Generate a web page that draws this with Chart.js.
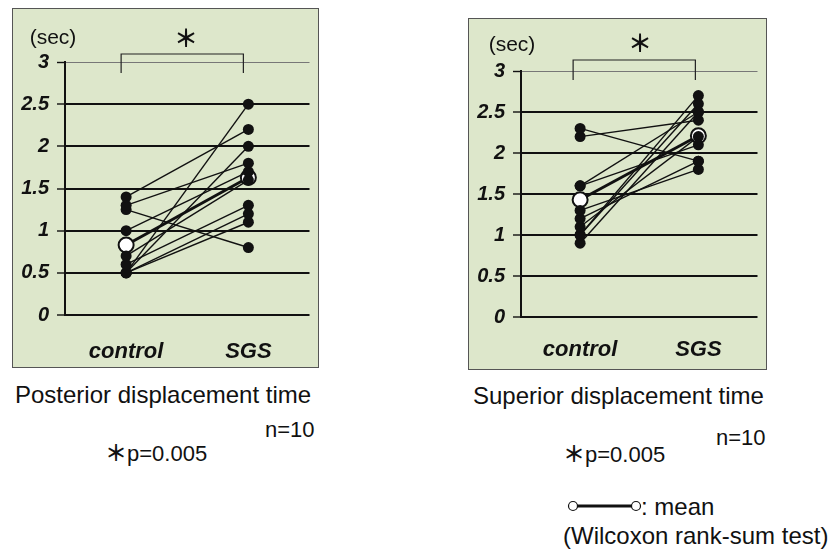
<!DOCTYPE html>
<html>
<head>
<meta charset="utf-8">
<script src="https://cdn.jsdelivr.net/npm/chart.js@4.4.1/dist/chart.umd.min.js"></script>
<style>
    body { margin: 0; background: #fff; width: 834px; height: 550px; position: relative; overflow: hidden;
           font-family: "Liberation Sans", Arial, sans-serif; color: #111; }
    .panel { position: absolute; box-sizing: border-box; background: #dde7cb; border: 1px solid #555; }
    canvas { position: absolute; }
    .txt { position: absolute; line-height: 1; white-space: nowrap; }
    .ast { font-family: "Noto Sans CJK JP", sans-serif; font-weight: bold; }
</style>
</head>
<body>
<div class="panel" style="left:12px; top:8px; width:307px; height:360px;"></div>
<canvas id="chartPost" style="left:12px; top:8px;"></canvas>
<div class="panel" style="left:468px; top:18px; width:299px; height:352px;"></div>
<canvas id="chartSup" style="left:468px; top:18px;"></canvas>

<div class="txt" style="left:15px; top:383px; font-size:24px;">Posterior displacement time</div>
<div class="txt" style="left:265px; top:419px; font-size:22px;">n=10</div>
<div class="txt" style="left:105px; top:440px; font-size:22px;"><span class="ast">＊</span>p=0.005</div>

<div class="txt" style="left:473px; top:384px; font-size:24px;">Superior displacement time</div>
<div class="txt" style="left:716px; top:427px; font-size:22px;">n=10</div>
<div class="txt" style="left:563px; top:441px; font-size:22px;"><span class="ast">＊</span>p=0.005</div>

<svg style="position:absolute; left:560px; top:496px;" width="90" height="20">
    <line x1="17" y1="10" x2="72" y2="10" stroke="#111" stroke-width="3"/>
    <circle cx="13" cy="10" r="4.5" fill="#fff" stroke="#111" stroke-width="1.2"/>
    <circle cx="76" cy="10" r="4.5" fill="#fff" stroke="#111" stroke-width="1.2"/>
</svg>
<div class="txt" style="left:641px; top:495px; font-size:24px;">: mean</div>
<div class="txt" style="left:563px; top:524px; font-size:24px;">(Wilcoxon rank-sum test)</div>

<script>
// 그룹 라벨, y축 눈금
const groups = ['control', 'SGS'];
const yTicks = [0, 0.5, 1, 1.5, 2, 2.5, 3];
const yTickLabels = ['0', '0.5', '1', '1.5', '2', '2.5', '3'];

// Posterior displacement time (개체별 control -> SGS)
const postControl = [1.4, 1.3, 1.25, 1.0, 0.7, 0.6, 0.5, 0.5, 0.5, 0.5];
const postSGS     = [2.2, 1.8, 0.8, 1.7, 1.6, 1.3, 2.5, 2.0, 1.2, 1.1];
const postMean    = [0.83, 1.63];

// Superior displacement time
const supControl = [2.3, 2.2, 1.6, 1.6, 1.3, 1.2, 1.1, 1.0, 1.0, 0.9];
const supSGS     = [1.9, 2.4, 2.5, 2.1, 1.8, 1.9, 2.2, 2.7, 2.6, 2.5];
const supMean    = [1.43, 2.21];

const tickFont = { family: '"Liberation Sans", Arial, sans-serif', size: 20, weight: 'bold', style: 'italic' };
const catFont  = { family: '"Liberation Sans", Arial, sans-serif', size: 22, weight: 'bold', style: 'italic' };

// 유의성 괄호, 별표, (sec) 표시
const bracketPlugin = {
    id: 'bracket',
    afterDraw(chart, args, opts) {
        const ctx = chart.ctx;
        const x = chart.scales.x;
        const x0 = x.getPixelForValue(0) + opts.dx0;
        const x1 = x.getPixelForValue(1) + opts.dx1;
        ctx.save();
        ctx.strokeStyle = '#222';
        ctx.lineWidth = 1.2;
        ctx.beginPath();
        ctx.moveTo(x0, opts.bottom);
        ctx.lineTo(x0, opts.top);
        ctx.lineTo(x1, opts.top);
        ctx.lineTo(x1, opts.bottom);
        ctx.stroke();
        ctx.fillStyle = '#111';
        ctx.textAlign = 'center';
        ctx.textBaseline = 'middle';
        ctx.font = 'bold 24px "Noto Sans CJK JP", sans-serif';
        ctx.fillText('＊', opts.astX, opts.astY);
        ctx.font = '21px "Liberation Sans", Arial, sans-serif';
        ctx.fillText('(sec)', opts.secX, opts.secY);
        ctx.restore();
    }
};

function makeChart(id, w, h, top, bottom, control, sgs, mean, br) {
    const canvas = document.getElementById(id);
    canvas.width = w;
    canvas.height = h;
    canvas.style.width = w + 'px';
    canvas.style.height = h + 'px';

    const datasets = control.map((c, i) => ({
        data: [c, sgs[i]],
        borderColor: '#111',
        borderWidth: 1.4,
        pointRadius: 5.5,
        pointBackgroundColor: '#111',
        pointBorderWidth: 0
    }));
    datasets.push({
        data: mean,
        borderColor: '#111',
        borderWidth: 3,
        pointRadius: 7.5,
        pointBackgroundColor: '#fff',
        pointBorderColor: '#111',
        pointBorderWidth: 2
    });

    return new Chart(canvas, {
        type: 'line',
        data: { labels: groups, datasets: datasets },
        options: {
            responsive: false,
            animation: false,
            layout: { padding: { top: top, left: 0, right: 0, bottom: 0 } },
            plugins: {
                legend: { display: false },
                tooltip: { enabled: false },
                bracket: br
            },
            scales: {
                x: {
                    offset: true,
                    grid: { display: false, drawTicks: false },
                    border: { display: false },
                    ticks: { color: '#111', font: catFont, padding: br.labelPad },
                    afterFit: s => { s.height = h - bottom; }
                },
                y: {
                    min: 0,
                    max: 3,
                    afterBuildTicks: s => { s.ticks = yTicks.map(v => ({ value: v })); },
                    grid: {
                        color: c => c.tick && c.tick.value === 3 ? '#777' : '#111',
                        lineWidth: c => c.tick && c.tick.value === 3 ? 1 : 2,
                        tickLength: 8,
                        tickColor: '#111',
                        tickWidth: 1.4
                    },
                    border: { display: true, color: '#111', width: 2 },
                    ticks: {
                        color: '#111',
                        font: tickFont,
                        padding: 8,
                        callback: (v, i) => yTickLabels[i]
                    },
                    afterFit: s => { s.width = 53; }
                }
            }
        },
        plugins: [bracketPlugin]
    });
}

makeChart('chartPost', 307, 360, 54, 307, postControl, postSGS, postMean,
    { dx0: -5, dx1: -5, top: 46, bottom: 65, astX: 174, astY: 30, secX: 41, secY: 30, labelPad: 24 });
makeChart('chartSup', 299, 352, 53, 299, supControl, supSGS, supMean,
    { dx0: -7, dx1: -3, top: 42, bottom: 62, astX: 172, astY: 25, secX: 44, secY: 27, labelPad: 20 });
</script>
</body>
</html>
